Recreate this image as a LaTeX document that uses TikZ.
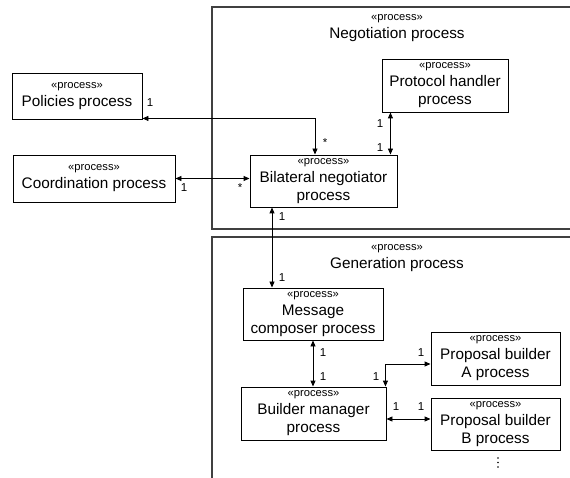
\documentclass[tikz,border=0pt]{standalone}
\usepackage{fontspec}
\setmainfont{Liberation Sans}
\usetikzlibrary{arrows.meta}
\begin{document}
\begin{tikzpicture}[x=1pt,y=-1pt,
  proc/.style={draw,line width=0.9pt,align=center,inner sep=0pt,
    font=\fontsize{15.3}{18}\selectfont},
  container/.style={draw=black!75,line width=1.3pt},
  title/.style={align=center,inner sep=0pt,font=\fontsize{15.3}{18}\selectfont},
  link/.style={line width=0.9pt,{Triangle[length=6pt,width=5pt]}-{Triangle[length=6pt,width=5pt]}},
  mult/.style={inner sep=0pt,font=\fontsize{11.5}{12}\selectfont}]
\newcommand{\stereotype}{{\fontsize{11.2}{13}\selectfont «process»}}
\useasboundingbox (0,0) rectangle (570,478);
\clip (0,0) rectangle (570,478);

% package frames, open to the right and below
\draw[container] (580,7) -- (212,7) -- (212,229) -- (580,229);
\draw[container] (580,237) -- (212,237) -- (212,490);
\node[title] (negtitle) at (397,28) {\stereotype\\Negotiation process};
\node[title] (gentitle) at (397,258) {\stereotype\\Generation process};

% processes
\node[proc,minimum width=130pt,minimum height=46pt] (pol) at (77,96)
  {\stereotype\\Policies process};
\node[proc,minimum width=162pt,minimum height=47pt] (coord) at (94,178.5)
  {\stereotype\\Coordination process};
\node[proc,minimum width=126pt,minimum height=53pt] (prot) at (445,85.5)
  {\stereotype\\Protocol handler\\process};
\node[proc,minimum width=147pt,minimum height=52pt] (bil) at (323.5,181)
  {\stereotype\\Bilateral negotiator\\process};
\node[proc,minimum width=140pt,minimum height=52pt] (msg) at (313,314)
  {\stereotype\\Message\\composer process};
\node[proc,minimum width=145pt,minimum height=53pt] (bld) at (313.5,413.5)
  {\stereotype\\Builder manager\\process};
\node[proc,minimum width=129pt,minimum height=53pt] (pa) at (495.5,358.5)
  {\stereotype\\Proposal builder\\A process};
\node[proc,minimum width=129pt,minimum height=52pt] (pb) at (495.5,424)
  {\stereotype\\Proposal builder\\B process};

% connectors
\draw[link] ([yshift=1pt]pol.south east) -| ([xshift=-8.5pt]bil.north);
\draw[link] (coord.east) -- (coord.east -| bil.west);
\draw[link] ([xshift=-7pt]bil.north east) -- ([xshift=-7pt]bil.north east |- prot.south);
\draw[link] ([xshift=-51.5pt]bil.south) -- ([xshift=-51.5pt]bil.south |- msg.north);
\draw[link] (msg.south) -- (msg.south |- bld.north);
\draw[link] ([xshift=-1pt]bld.north east) |- ([yshift=-5.5pt]pa.west);
\draw[link] ([yshift=5pt]pb.west) -- ([yshift=5pt]pb.west -| bld.east);

% multiplicities
\node[mult] (m1) at (150,103) {1};
\node[mult] (m2) at (325,143) {*};
\node[mult] (m3) at (184,188) {1};
\node[mult] (m4) at (240,188) {*};
\node[mult] (m5) at (380,124) {1};
\node[mult] (m6) at (380,148) {1};
\node[mult] (m7) at (282,217) {1};
\node[mult] (m8) at (282,278) {1};
\node[mult] (m9) at (323,353) {1};
\node[mult] (m10) at (323,377) {1};
\node[mult] (m11) at (421,353) {1};
\node[mult] (m12) at (376,377) {1};
\node[mult] (m13) at (396,407) {1};
\node[mult] (m14) at (421,407) {1};

% further builders
\foreach \k/\yy in {1/458,2/462.5,3/467}
  \fill (498,\yy) circle (0.9pt) coordinate (dot\k);
\end{tikzpicture}
\end{document}
